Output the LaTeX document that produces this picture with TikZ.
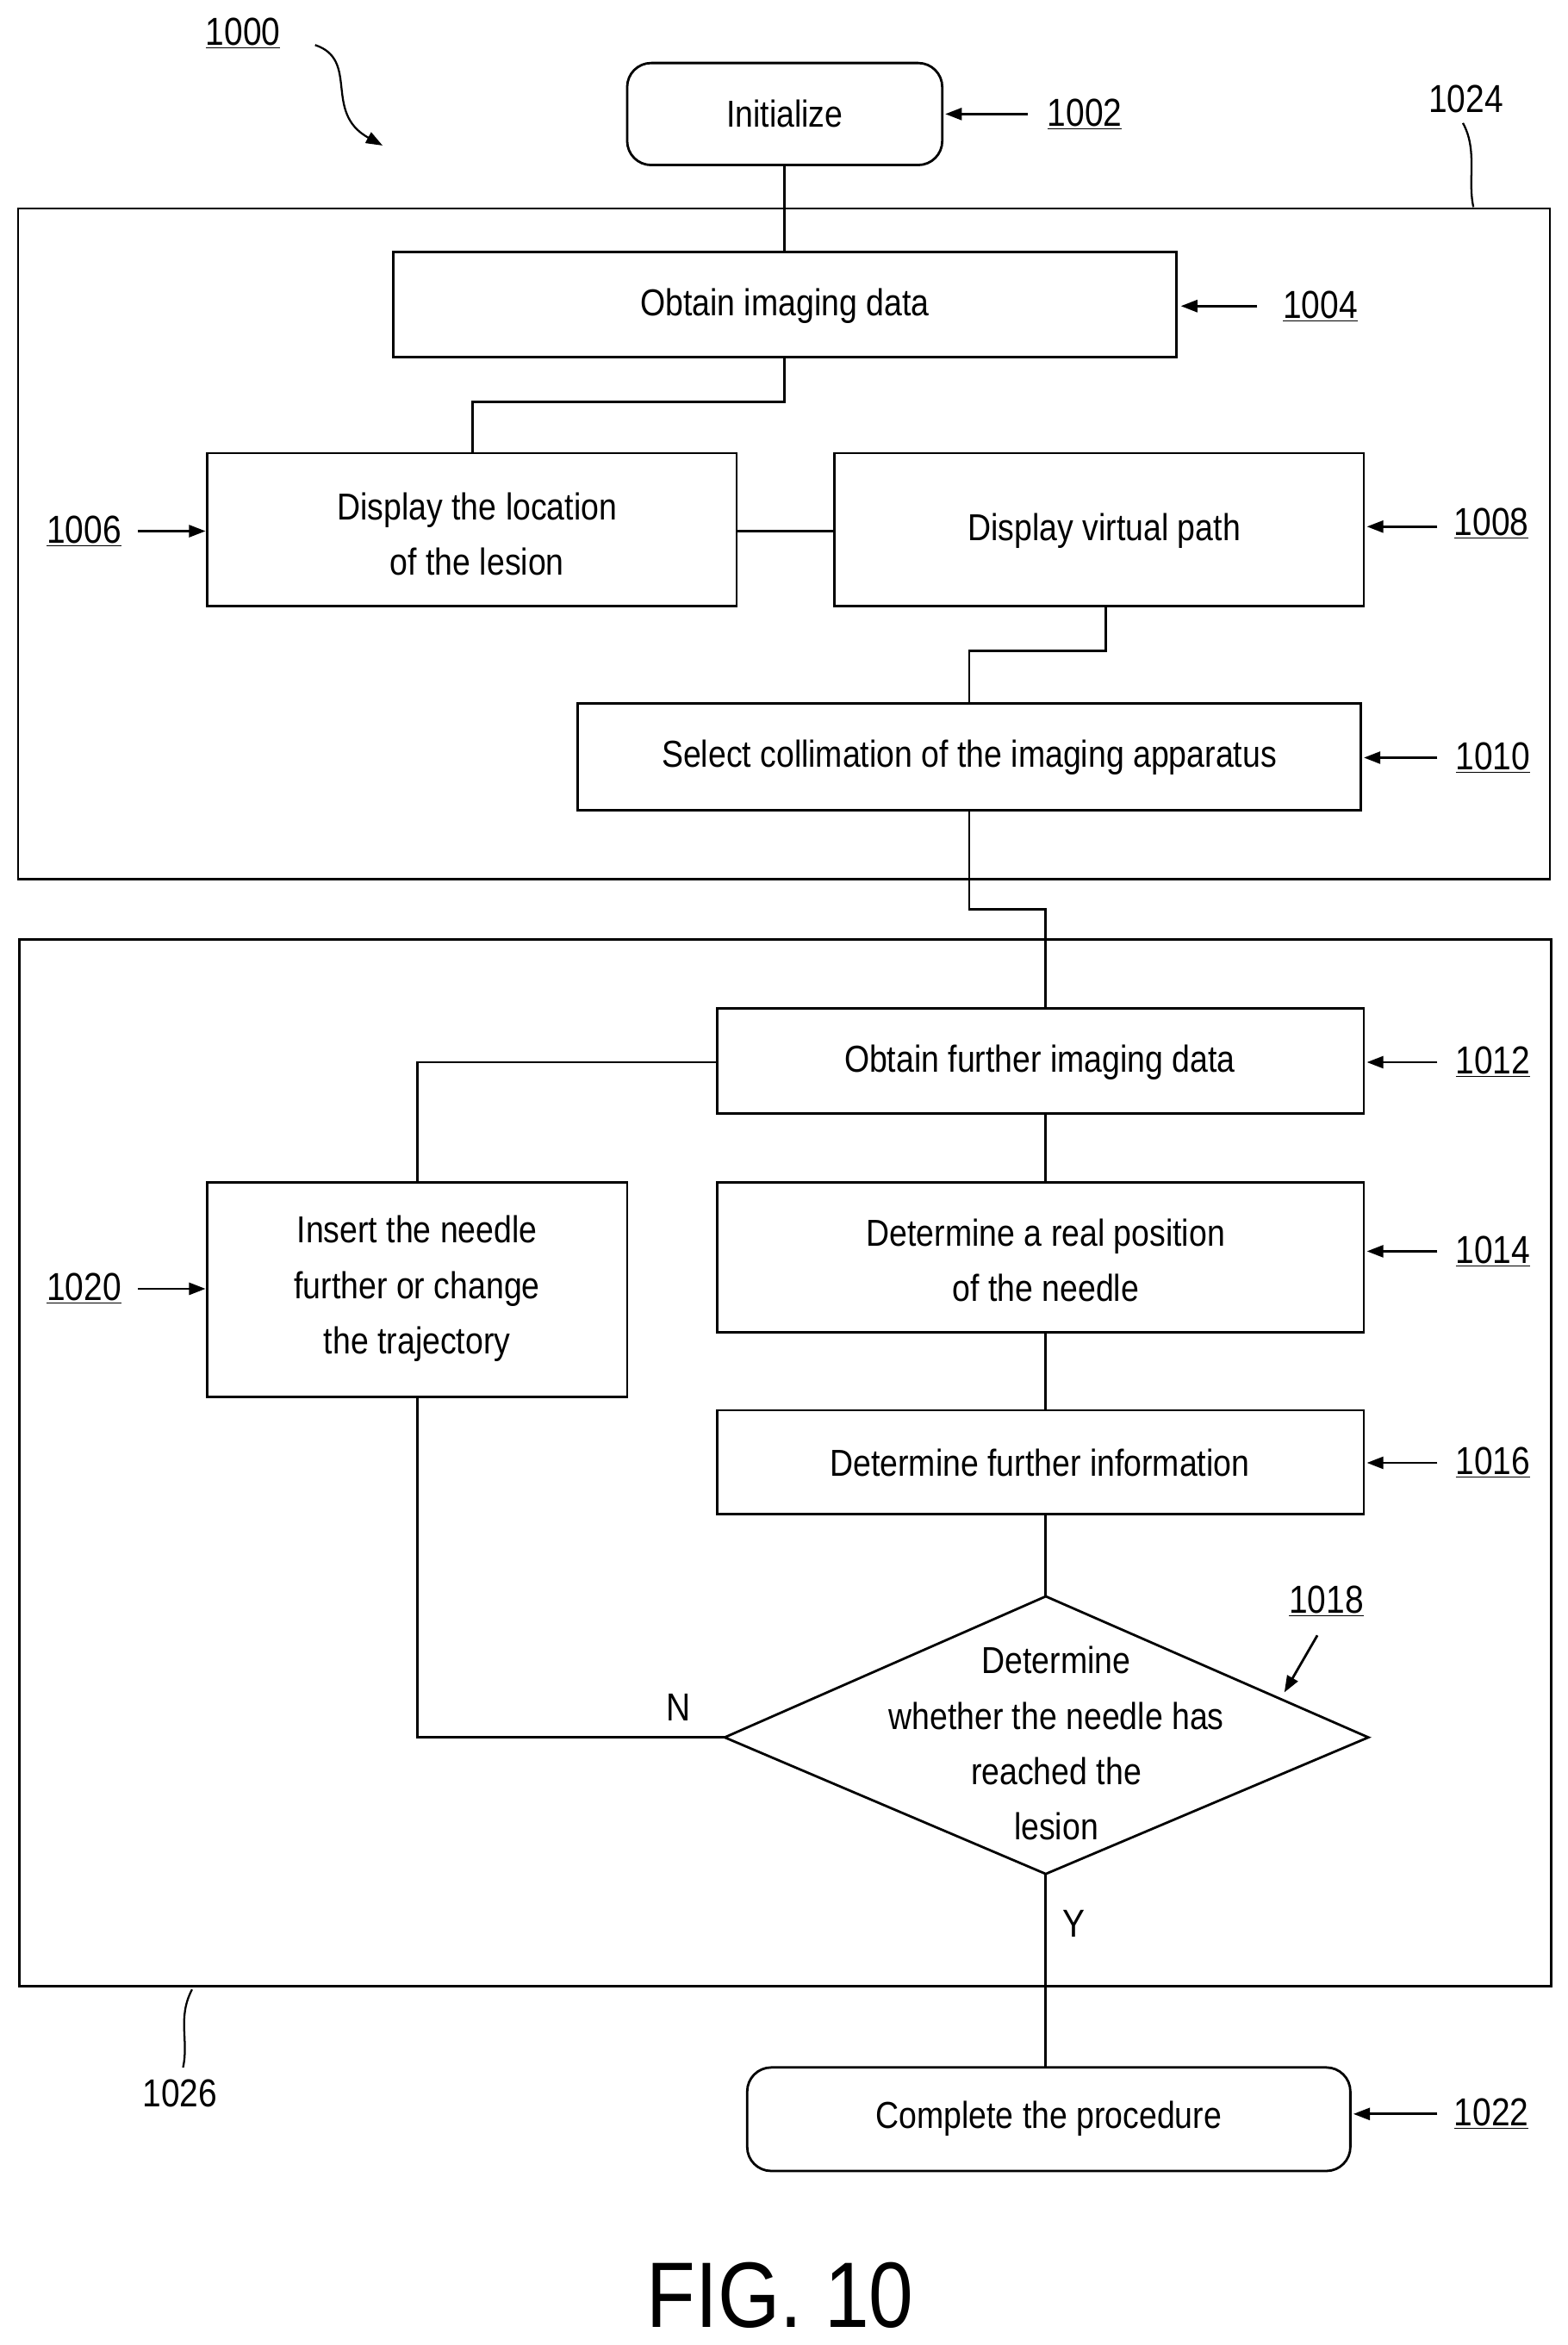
\documentclass[tikz,border=0pt]{standalone}
\usepackage{fontspec}
\setmainfont{Liberation Sans}[FakeStretch=0.86]
\usetikzlibrary{arrows.meta}
\begin{document}
\begin{tikzpicture}[x=1pt,y=-1pt,line width=1.6pt,
  txt/.style={font=\fontsize{25}{37}\selectfont,align=center,inner sep=0pt},
  lab/.style={font=\fontsize{26}{30}\selectfont,inner sep=0pt},
  tip/.style={-{Triangle[length=11pt,width=8pt]}}]
\useasboundingbox (0,0) rectangle (1045,1563);
\newcommand{\ul}[1]{\underline{#1}}
% frames
\draw (12,139) rectangle (1033,586);
\draw (13,626) rectangle (1034,1324);
% boxes
\draw[rounded corners=16pt] (418,42) rectangle (628,110); \node[txt] (n1002) at (523,76) {Initialize};
\draw (262,168) rectangle (784,238); \node[txt] (n1004) at (523,204) {Obtain imaging data};
\draw (138,302) rectangle (491,404); \node[txt] (n1006) at (318,356) {Display the location\\of the lesion};
\draw (556,302) rectangle (909,404); \node[txt] (n1008) at (736,354) {Display virtual path};
\draw (385,469) rectangle (907,540); \node[txt] (n1010) at (646,505) {Select collimation of the imaging apparatus};
\draw (478,672) rectangle (909,742); \node[txt] (n1012) at (693,708) {Obtain further imaging data};
\draw (138,788) rectangle (418,931); \node[txt] (n1020) at (278,859) {Insert the needle\\further or change\\the trajectory};
\draw (478,788) rectangle (909,888); \node[txt] (n1014) at (697,840) {Determine a real position\\of the needle};
\draw (478,940) rectangle (909,1009); \node[txt] (n1016) at (693,975) {Determine further information};
\draw (697,1064) -- (912,1158) -- (697,1249) -- (483,1158) -- cycle;
\node[txt] (n1018) at (704,1162) {Determine\\whether the needle has\\reached the\\lesion};
\draw[rounded corners=16pt] (498,1378) rectangle (900,1447); \node[txt] (n1022) at (699,1412) {Complete the procedure};
% connectors
\draw (523,110) -- (523,168);
\draw (523,238) -- (523,268) -- (315,268) -- (315,302);
\draw (491,354) -- (556,354);
\draw (737,404) -- (737,434) -- (646,434) -- (646,469);
\draw (646,540) -- (646,606) -- (697,606) -- (697,672);
\draw (478,708) -- (278,708) -- (278,788);
\draw (697,742) -- (697,788);
\draw (697,888) -- (697,940);
\draw (697,1009) -- (697,1064);
\draw (483,1158) -- (278,1158) -- (278,931);
\draw (697,1249) -- (697,1378);
\node[lab] at (452,1138) {N};
\node[lab] at (716,1282) {Y};
% reference labels
\node[lab] at (162,22) {\ul{1000}};
\draw[tip,line width=1.3pt] (210,30) .. controls (240,40) and (215,75) .. (255,97);
\node[lab] at (723,76) {\ul{1002}}; \draw[tip] (685,76) -- (630,76);
\node[lab] at (977,66) {1024}; \draw[line width=1.3pt] (975,82) .. controls (985,100) and (978,120) .. (982,138);
\node[lab] at (880,204) {\ul{1004}}; \draw[tip] (838,204) -- (787,204);
\node[lab] at (56,354) {\ul{1006}}; \draw[tip] (92,354) -- (137,354);
\node[lab] at (994,349) {\ul{1008}}; \draw[tip] (958,351) -- (911,351);
\node[lab] at (995,505) {\ul{1010}}; \draw[tip] (958,505) -- (909,505);
\node[lab] at (995,708) {\ul{1012}}; \draw[tip] (958,708) -- (911,708);
\node[lab] at (56,859) {\ul{1020}}; \draw[tip] (92,859) -- (137,859);
\node[lab] at (995,834) {\ul{1014}}; \draw[tip] (958,834) -- (911,834);
\node[lab] at (995,975) {\ul{1016}}; \draw[tip] (958,975) -- (911,975);
\node[lab] at (884,1067) {\ul{1018}}; \draw[tip] (878,1090) -- (856,1128);
\node[lab] at (994,1409) {\ul{1022}}; \draw[tip] (958,1409) -- (902,1409);
\node[lab] at (120,1395) {1026}; \draw[line width=1.3pt] (128,1326) .. controls (118,1345) and (126,1360) .. (122,1378);
\node[inner sep=0pt,font=\fontsize{62}{64}\selectfont] at (520,1530) {FIG. 10};
\end{tikzpicture}
\end{document}
